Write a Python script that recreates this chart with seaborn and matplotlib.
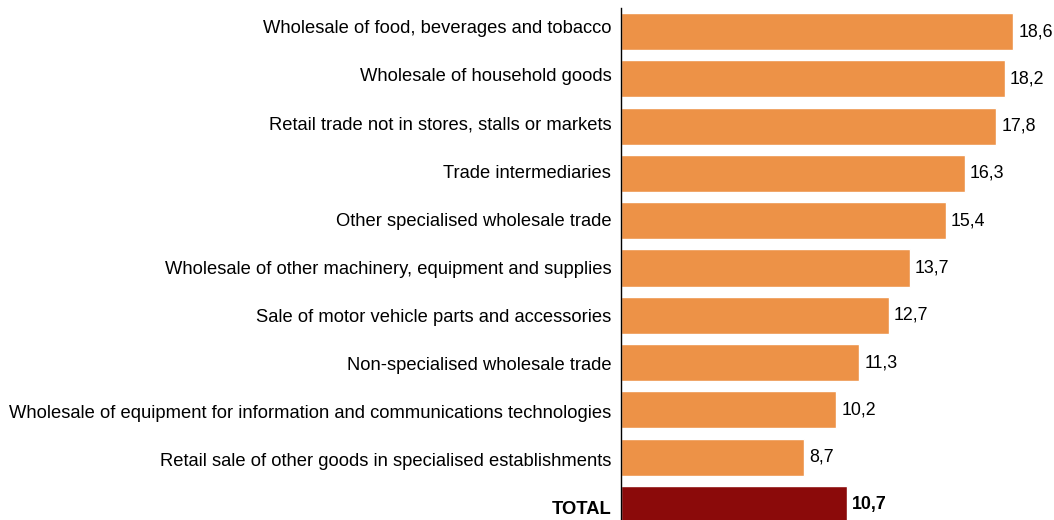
import matplotlib
matplotlib.use("Agg")
import matplotlib.pyplot as plt
import matplotlib.transforms as mtransforms
import seaborn as sns
import pandas as pd

categories = [
    "Wholesale of food, beverages and tobacco",
    "Wholesale of household goods",
    "Retail trade not in stores, stalls or markets",
    "Trade intermediaries",
    "Other specialised wholesale trade",
    "Wholesale of other machinery, equipment and supplies",
    "Sale of motor vehicle parts and accessories",
    "Non-specialised wholesale trade",
    "Wholesale of equipment for information and communications technologies",
    "Retail sale of other goods in specialised establishments",
    "TOTAL",
]
values = [18.6, 18.2, 17.8, 16.3, 15.4, 13.7, 12.7, 11.3, 10.2, 8.7, 10.7]
groups = ["sector"] * 10 + ["total"]

palette = {"sector": "#ED9247", "total": "#8B0A0A"}

df = pd.DataFrame({"category": categories, "value": values, "group": groups})

sns.set_theme(style="white")
plt.rcParams["font.family"] = ["Liberation Sans", "DejaVu Sans"]

fig = plt.figure(figsize=(10.54, 5.2), dpi=100)
ax = fig.add_axes([621 / 1054, 0.0, 1 - 621 / 1054, (520 - 8) / 520])

sns.barplot(
    data=df, x="value", y="category", hue="group", palette=palette,
    dodge=False, legend=False, width=0.785, saturation=1, ax=ax,
)

ax.set_xlim(0, 20.54)
ax.set_ylim(10.33, -0.5)
ax.set_xlabel("")
ax.set_ylabel("")
ax.set_xticks([])
for side in ["top", "right", "bottom"]:
    ax.spines[side].set_visible(False)
ax.spines["left"].set_color("black")
ax.spines["left"].set_linewidth(1.0)
ax.tick_params(axis="y", length=0, pad=7, labelsize=13.2, labelcolor="black")

# category labels are spaced a touch wider than the bars
for i, lbl in enumerate(ax.get_yticklabels()):
    shift = mtransforms.ScaledTranslation(0, (4.7 - 0.75 * i) / 100, fig.dpi_scale_trans)
    lbl.set_transform(lbl.get_transform() + shift)
    if lbl.get_text() == "TOTAL":
        lbl.set_fontweight("bold")

for container in ax.containers:
    for bar in container:
        w = bar.get_width()
        if w != w:
            continue
        y = bar.get_y() + bar.get_height() / 2
        is_total = abs(y - 10) < 0.01
        ax.text(w + 0.25, y, f"{w:.1f}".replace(".", ","), va="center", ha="left",
                fontsize=12.8, color="black",
                fontweight="bold" if is_total else "normal")

fig.savefig("out.png", dpi=100)
